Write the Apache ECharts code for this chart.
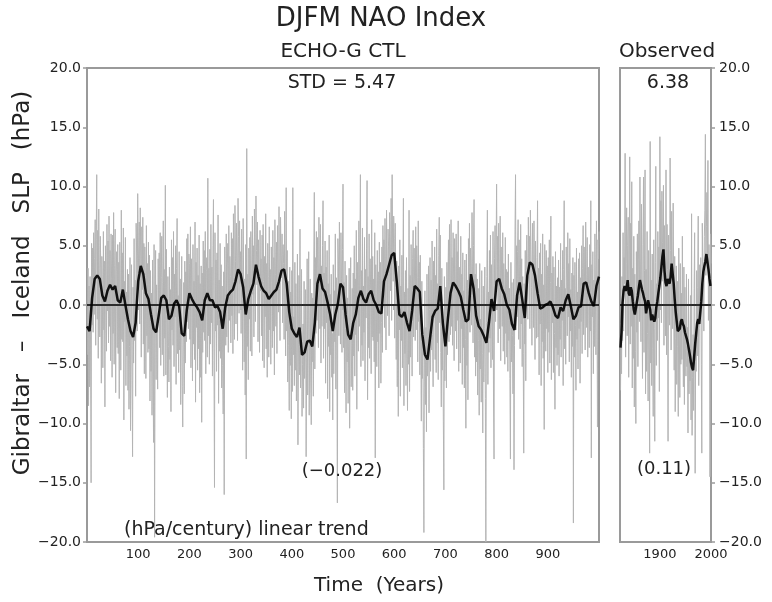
<!DOCTYPE html>
<html><head><meta charset="utf-8">
<script src="https://cdn.jsdelivr.net/npm/echarts@6/dist/echarts.min.js"></script>
<style>html,body{margin:0;padding:0;background:#fff}#c{width:772px;height:602px}</style>
</head><body><div id="c"></div>
<script>
// ECHO-G CTL annual DJFM NAO index, model years 1..1000 (hPa)
const ctlAnnual = [
-4.2,3.1,-8.5,1.6,-6.9,2.4,-3.8,-15.0,5.2,-1.7,4.8,-2.3,6.1,-0.8,3.9,7.2,-3.4,5.5,11.0,-1.2,
6.3,-4.5,8.1,1.9,-2.7,5.8,3.2,-6.6,4.1,0.9,-5.3,6.2,-2.1,3.7,-8.6,5.0,1.4,-3.9,6.8,-0.5,
5.4,-3.2,7.5,-1.8,4.6,-4.7,6.0,2.2,-6.1,5.9,-2.4,7.8,-5.0,3.3,6.4,-7.4,2.8,4.5,-3.6,5.1,
-4.1,3.6,-7.9,5.3,1.2,-5.5,8.0,-2.9,4.4,-3.1,6.5,-9.7,2.0,-1.4,5.7,-6.8,1.1,-4.3,3.0,-7.2,
2.6,-8.8,-3.5,4.0,-10.6,-1.9,3.4,-6.4,-12.8,1.5,-4.9,5.6,-3.0,2.1,-7.7,6.9,4.3,-2.2,9.4,5.0,
2.7,7.0,-1.6,8.2,3.8,-4.4,6.6,1.3,7.4,-3.3,5.2,-5.8,4.9,2.5,-6.2,6.7,-2.6,3.5,-4.0,5.3,
-3.7,4.2,-8.1,2.9,-5.6,1.0,-9.3,3.8,-4.8,-11.6,5.1,-19.6,-2.0,4.6,-6.3,1.7,-3.2,-7.1,3.9,-1.5,
4.4,-3.6,6.1,-5.1,2.3,5.8,-4.2,1.9,7.1,-6.0,3.0,-2.8,10.1,-5.9,4.7,-1.1,-7.8,2.4,-3.5,-6.5,
3.2,-4.6,1.3,-9.0,5.5,-2.1,4.0,-3.4,6.2,-5.2,2.6,-1.0,5.0,-6.7,3.1,7.3,-4.1,0.8,-5.7,4.5,
-3.8,2.2,-8.4,-1.6,4.1,-6.9,-10.3,-2.5,1.9,-7.5,3.7,-4.9,2.8,-3.1,5.6,-1.4,6.0,-2.0,4.3,3.5,
-2.9,6.6,-5.3,3.9,1.2,-6.4,5.1,-3.3,2.0,-4.6,7.0,-8.2,3.6,-1.9,4.8,-5.5,2.5,-3.7,5.9,-7.4,
1.8,-6.1,3.3,-9.9,2.7,-4.0,5.4,-2.3,4.6,-3.0,6.2,-5.8,2.9,4.0,-4.4,10.7,-2.6,3.1,-5.0,4.7,
-3.3,6.8,-1.5,3.2,-6.0,5.0,8.9,-4.7,-15.4,6.1,-2.2,3.8,-5.6,4.4,-1.7,7.6,-8.3,2.1,-3.9,5.2,
-4.5,3.4,-7.0,1.6,-5.1,-9.2,2.8,-16.0,4.9,1.0,-3.4,6.0,-2.7,3.3,5.2,-4.0,6.7,-1.3,4.1,2.4,
-3.2,6.1,-0.9,5.6,-4.1,7.7,2.3,-2.9,8.4,3.7,-1.6,6.9,4.4,-3.0,9.0,5.8,-0.7,7.1,1.8,4.5,
-2.4,6.4,3.0,-5.5,7.3,1.6,-4.8,2.2,-7.6,5.1,-13.0,13.2,-3.5,2.6,-6.3,4.8,-1.2,5.7,-3.9,6.2,
2.1,-4.3,7.5,0.9,5.0,-2.7,8.1,3.4,-1.4,9.2,4.6,1.7,7.0,-3.1,5.5,2.8,-4.0,6.3,1.2,3.9,
-2.6,5.9,-4.7,6.8,2.0,-5.3,4.1,-1.0,7.7,-3.7,3.5,-6.1,5.2,2.4,-4.4,6.6,-2.1,3.0,-5.0,4.9,
1.9,-3.6,6.3,-2.2,4.0,-5.9,7.2,2.6,-1.8,5.3,-4.1,6.7,3.1,-0.6,8.3,1.4,-3.0,7.4,4.2,2.3,
6.0,-1.5,5.1,3.5,-2.9,7.9,1.0,-4.3,9.9,-2.2,4.6,-6.5,2.0,-3.4,-8.9,3.2,-5.1,1.1,-9.6,2.9,
-7.3,9.9,-4.2,-1.0,-6.8,3.6,-5.5,1.8,-8.1,-2.6,4.3,-11.8,-3.3,2.5,-5.9,6.4,-7.0,-2.8,3.0,-9.4,
-5.0,-1.6,-8.7,2.0,-6.2,-3.6,1.3,-12.8,-4.4,3.9,-7.6,-2.1,4.5,-9.3,-3.0,2.2,-6.5,-10.1,1.0,-4.8,
0.6,-7.7,3.8,9.5,-5.4,4.0,-2.4,6.2,-1.3,5.7,2.9,-3.6,7.4,1.6,-2.0,6.8,-4.9,3.3,-1.8,5.0,
8.8,-4.5,2.7,-2.0,5.4,-6.6,3.2,-1.5,4.6,-7.9,1.8,-3.5,5.9,-9.0,0.9,-4.2,2.6,-6.1,-2.4,-9.7,
3.4,-5.8,1.2,-3.1,6.0,-7.1,2.3,-1.4,-16.7,5.6,3.8,-2.6,7.0,1.5,-3.3,6.1,2.2,-4.0,4.7,10.2,
-3.6,1.9,-7.4,3.7,-2.0,-9.1,2.5,-4.8,0.6,-8.3,-2.9,3.1,-10.4,-1.7,4.0,-6.9,-3.8,1.4,-7.2,2.7,
-4.3,5.0,-6.0,2.2,-2.5,6.3,-8.8,3.6,0.5,-3.9,7.1,-1.8,4.4,11.0,-5.2,2.9,-3.4,6.5,-4.7,1.6,
-2.3,5.7,-6.4,3.0,-1.1,4.8,10.5,-8.0,2.4,-3.6,6.0,-4.5,3.9,1.3,-5.8,7.2,-2.7,4.1,-3.0,2.2,
-4.8,6.1,-12.9,3.4,1.0,-5.2,4.6,-3.1,2.8,-7.0,5.3,-2.4,3.6,-6.6,-1.5,4.9,-4.0,6.7,1.8,5.5,
-1.9,7.3,2.4,-3.8,8.0,3.1,-0.9,6.4,4.9,-2.6,7.8,5.1,1.2,9.0,-1.3,11.0,4.3,2.0,7.5,5.6,
-2.8,6.9,1.5,-4.6,3.7,-6.9,2.0,-9.4,3.3,-2.1,5.5,-7.7,1.6,-3.0,4.2,-5.3,2.7,9.0,-8.5,1.1,
-4.1,2.9,-6.8,4.0,-3.5,-8.9,1.4,-5.0,8.0,-7.3,2.5,-4.4,5.1,-1.2,-6.0,3.9,6.3,-2.7,4.8,1.7,
-3.0,6.6,-2.1,5.0,2.3,-4.8,7.1,-1.4,3.6,-5.9,4.2,-3.3,-9.8,2.0,-6.2,-2.9,-12.1,-19.2,-3.6,1.2,
-8.4,-1.9,-10.7,2.6,-6.0,-4.1,3.3,-9.1,-0.4,4.0,-5.6,2.1,-3.8,5.4,-2.5,-6.9,3.7,-1.1,4.9,-4.6,
2.5,-5.7,6.4,-3.2,1.8,-6.3,4.2,7.4,-1.5,5.9,-4.0,-8.6,3.1,-5.5,-1.2,-9.8,-15.6,2.4,-6.4,-3.0,
1.5,-7.0,3.6,-4.2,2.0,5.5,-3.1,6.8,1.4,-2.5,7.2,-1.8,4.0,-3.4,6.1,2.7,-4.7,5.6,1.9,-2.2,
6.0,-3.7,4.5,-1.3,7.1,-5.6,3.2,1.0,-4.9,5.8,-2.0,2.6,-6.7,4.4,-3.6,1.2,-7.0,3.8,-2.9,-10.4,
4.3,-5.1,2.1,-8.0,5.6,1.0,6.9,-2.3,4.8,3.0,-1.7,7.8,1.9,-3.2,5.0,8.9,-4.4,2.6,-6.0,3.5,
-4.8,2.2,-7.6,1.4,-3.0,-9.3,3.5,-5.4,-1.2,-8.2,2.9,-4.1,-10.8,1.6,-6.5,-2.0,3.2,-7.9,-20.0,-1.5,
2.4,8.0,-6.7,1.1,-4.0,4.6,-2.8,5.9,-5.3,3.4,1.0,-4.6,6.2,-8.1,-13.0,3.9,6.7,-1.4,4.2,10.2,
1.6,5.8,-3.2,6.9,2.3,-2.0,7.5,-4.7,4.9,2.0,-1.8,6.1,-3.9,3.5,1.2,-5.0,5.7,-2.4,3.0,-4.4,
2.8,-5.6,4.3,-3.0,1.4,-6.2,-13.0,3.6,-4.8,1.9,-2.6,-7.5,2.2,-13.9,-3.4,6.4,11.0,-2.1,5.0,-1.0,
4.5,7.2,-2.9,5.5,0.8,-3.7,6.8,-1.6,3.9,-5.2,2.4,-4.1,-12.5,1.8,-3.3,4.6,-6.4,3.0,5.9,2.1,
-1.2,7.4,3.3,5.8,-2.0,8.0,4.7,1.5,-3.4,6.9,3.8,-1.9,7.1,2.2,-4.6,5.4,0.7,-2.8,4.0,8.8,
-2.7,3.1,-5.9,4.4,-1.6,5.2,-6.8,2.6,-3.1,6.0,-4.5,1.7,-10.5,5.1,2.2,-3.9,4.6,-2.0,3.3,-5.7,
4.0,-2.3,5.5,-4.9,1.9,7.5,-6.3,2.7,-1.5,4.1,-5.7,3.2,-2.4,-8.8,4.5,-3.6,1.6,-5.1,2.3,-4.2,
3.8,-6.0,1.5,-2.9,5.2,-4.4,2.1,-1.3,4.6,-6.8,3.0,8.8,-3.7,1.4,-5.0,4.9,2.2,-2.6,6.1,-1.0,
3.5,-4.8,5.6,-2.2,1.3,-6.1,2.7,-3.5,4.0,-18.4,2.5,-4.4,3.6,-1.7,-7.2,4.8,-2.9,1.1,-5.4,3.9,
-2.0,4.4,-6.6,2.3,-1.4,5.0,-4.1,3.1,6.7,-2.5,4.9,1.5,-3.8,7.0,2.6,-1.9,5.7,-4.4,3.2,1.0,
-3.6,5.1,-2.2,8.8,-12.9,3.4,-1.0,4.5,-5.8,2.1,-3.5,6.0,1.3,-4.2,7.1,2.8,-10.3,5.5,3.9,6.2
];
// ECHO-G CTL smoothed index, every 5 model years from year 0
const ctlSmoothStep = 5;
const ctlSmooth = [
-1.8,-2.2,0.6,2.2,2.5,2.2,0.8,0.3,1.2,1.7,1.3,1.6,0.4,0.2,1.3,0.0,-1.2,-2.2,-2.7,-1.5,
2.0,3.3,2.6,1.0,0.5,-0.8,-2.0,-2.3,-0.9,0.6,0.8,0.4,-1.2,-0.9,0.1,0.4,-0.1,-2.4,-2.6,-0.4,
1.0,0.5,0.1,-0.2,-0.6,-1.3,0.4,1.0,0.4,0.4,-0.2,-0.1,-0.6,-2.0,-0.2,0.8,1.1,1.3,2.0,3.0,
2.6,1.5,-0.8,0.5,1.2,1.8,3.4,2.4,1.6,1.2,1.0,0.5,0.8,1.1,1.3,2.0,2.9,3.0,1.8,-0.6,
-2.0,-2.4,-2.7,-1.9,-4.2,-4.0,-3.1,-3.0,-3.5,-1.5,1.8,2.6,1.4,1.1,0.2,-0.8,-2.2,-0.8,0.1,1.8,
1.5,-0.8,-2.5,-2.9,-1.5,-0.8,0.6,1.2,0.5,0.2,0.9,1.2,0.4,0.0,-0.6,-0.7,2.0,2.6,3.4,4.2,
4.4,2.0,-0.8,-1.0,-0.6,-1.5,-2.2,-0.5,1.6,1.4,1.1,-2.5,-4.2,-4.6,-2.8,-1.0,-0.5,-0.3,1.6,-1.5,
-3.5,-1.1,1.0,1.9,1.6,1.2,0.7,-0.4,-1.4,-1.2,2.6,1.4,-0.9,-1.8,-2.1,-2.6,-3.2,-1.5,0.5,-0.5,
2.0,2.2,1.4,0.9,0.0,-0.4,-1.6,-2.1,0.8,1.9,0.5,-1.1,2.5,3.6,3.4,2.5,1.0,-0.3,-0.2,0.0,
0.1,0.3,-0.2,-0.9,-1.1,-0.2,-0.5,0.4,0.9,-0.1,-1.2,-0.9,-0.2,-0.1,1.8,1.9,1.0,0.3,-0.1,1.6,
2.4
];
// Observed (Gibraltar - Iceland) annual DJFM index, 1823..2000 (hPa)
const obsStartYear = 1823;
const obsAnnual = [
-7.2,-1.5,-5.8,2.4,-3.0,6.1,-2.2,4.0,1.8,12.8,
-4.4,3.5,8.2,-2.6,5.0,7.4,-6.1,2.2,12.5,-3.3,
6.9,-1.8,10.4,-7.0,3.1,-4.5,5.8,-8.6,2.6,-3.9,
-10.0,4.5,-2.3,6.0,-5.2,3.8,7.1,-1.4,10.8,2.0,
-3.1,8.5,1.4,-6.2,5.1,10.8,-4.0,2.9,11.4,-7.5,
3.0,-5.6,6.2,-2.4,-8.1,4.6,-1.0,-12.5,13.8,-4.9,
2.1,-6.8,4.3,-3.7,-9.4,5.5,-2.0,-11.5,3.6,11.7,
-5.1,1.8,-3.0,6.2,-1.1,4.9,-7.3,14.2,2.4,8.8,
-1.5,9.6,5.3,2.0,10.1,-3.4,6.7,1.2,-2.6,11.4,
-4.2,6.8,3.0,-11.5,5.9,2.2,-1.7,12.4,4.6,-3.8,
7.9,2.7,-2.0,8.6,1.3,-5.5,4.1,-9.0,-2.8,3.3,
-6.7,2.0,-3.5,-9.4,4.8,-1.6,-7.8,3.5,-5.0,1.0,
-4.6,5.8,-2.1,-6.9,3.2,-8.4,1.5,-3.7,-6.0,2.6,
-5.2,-1.9,-10.8,2.2,-7.5,-3.8,-6.4,0.8,-9.7,7.7,
-11.0,-6.1,-2.5,-8.9,1.4,6.1,-14.2,-3.0,-5.6,2.9,
-4.3,1.5,7.5,-6.8,-2.0,3.4,-1.1,4.0,-5.0,-12.5,
6.9,3.0,1.6,-2.2,5.8,8.0,14.4,2.5,6.6,9.5,
4.0,12.2,-1.3,5.1,2.8,-14.5,6.0,3.5
];
// Observed smoothed index
const obsSmoothYears = [1823,1825,1827,1829,1831,1833,1835,1837,1839,1841,1843,1845,1847,1849,1851,1853,1855,1857,1859,1861,
1863,1865,1867,1869,1871,1873,1875,1877,1879,1881,1883,1885,1887,1889,1891,1893,1895,1897,1899,1901,
1903,1905,1907,1909,1911,1913,1915,1917,1919,1921,1923,1925,1927,1929,1931,1933,1935,1937,1939,1941,
1943,1945,1947,1949,1951,1953,1955,1957,1959,1961,1963,1965,1967,1969,1971,1973,1975,1977,1979,1981,
1983,1985,1987,1989,1991,1993,1995,1997,1999];
const obsSmooth = [-3.6,-2.3,0.2,1.2,1.6,1.2,1.4,2.1,1.0,0.8,1.5,1.2,0.3,-0.4,-0.8,-0.3,-0.2,0.8,1.5,2.1,
1.7,1.3,1.0,0.6,0.3,-0.7,-0.2,0.4,0.0,-0.4,-1.3,-0.8,-0.7,-1.4,-1.1,-0.2,0.3,1.0,1.6,2.3,
3.2,4.1,4.7,2.9,1.9,1.6,2.2,2.0,1.8,2.4,3.5,3.4,1.8,0.5,-0.6,-1.4,-2.2,-2.3,-2.0,-1.4,
-1.2,-1.6,-1.8,-2.3,-2.6,-2.9,-3.3,-3.8,-4.3,-4.9,-5.3,-5.5,-4.4,-3.3,-2.4,-1.5,-1.2,-1.6,-1.5,0.3,
1.8,2.8,3.3,3.7,4.3,4.2,3.0,2.2,1.6];
// Axis ticks and labels
const ctlXTicks = [100,200,300,400,500,600,700,800,900];
const obsXTicks = [1900,2000];
const yMin = -20, yMax = 20, yStep = 5;
const texts = {
  title: 'DJFM NAO Index',
  ctlTitle: 'ECHO-G CTL',
  obsTitle: 'Observed',
  ctlStd: 'STD = 5.47',
  obsStd: '6.38',
  ctlTrend: '(\u22120.022)',
  obsTrend: '(0.11)',
  trendNote: '(hPa/century) linear trend',
  xTitle: 'Time  (Years)',
  yTitle: 'Gibraltar   \u2013   Iceland   SLP   (hPa)'
};

const FONT = 'DejaVu Sans';
const TXT = '#222';
const AX = '#9a9a9a';

const ctlData = ctlAnnual.map((v, i) => [i + 1, v]);
const ctlSmoothData = ctlSmooth.map((v, i) => [i * ctlSmoothStep, v]);
const obsData = obsAnnual.map((v, i) => [obsStartYear + i, v]);
const obsSmoothData = obsSmooth.map((v, i) => [obsSmoothYears[i], v]);

const yFmt = v => (v < 0 ? '\u2212' : '') + Math.abs(v).toFixed(1);
const xFmt = v => String(v);

function yAxisCfg(grid, pos) {
  return {
    gridIndex: grid, type: 'value', min: yMin, max: yMax, interval: yStep, position: pos,
    axisLine: { show: true, lineStyle: { color: AX, width: 2 } },
    axisTick: { show: true, inside: false, length: 4, lineStyle: { color: AX, width: 1.5 } },
    axisLabel: { show: true, formatter: yFmt, color: TXT, fontFamily: FONT, fontSize: 14, margin: pos === 'left' ? 6 : 8 },
    splitLine: { show: false }
  };
}
function xAxisCfg(grid, min, max, ticks) {
  return {
    gridIndex: grid, type: 'value', min: min, max: max,
    axisLine: { show: true, lineStyle: { color: AX, width: 2 } },
    axisTick: { show: true, inside: false, length: 5, customValues: ticks, lineStyle: { color: AX, width: 1.5 } },
    axisLabel: { show: true, customValues: ticks, formatter: xFmt, color: TXT, fontFamily: FONT, fontSize: 13, margin: 6 },
    splitLine: { show: false }
  };
}
const zeroLine = {
  silent: true, symbol: ['none', 'none'], label: { show: false },
  lineStyle: { color: '#000', width: 1.5, type: 'solid' },
  data: [{ yAxis: 0 }]
};
function txt(text, x, y, size, align, rot) {
  return {
    type: 'text', x: x, y: y, rotation: rot || 0, silent: true, z: 100,
    style: { text: text, fill: TXT, font: size + 'px "' + FONT + '"',
      align: align || 'center', textAlign: align || 'center',
      verticalAlign: 'middle', textVerticalAlign: 'middle' }
  };
}

const chart = echarts.init(document.getElementById('c'), null, { renderer: 'canvas' });
chart.setOption({
  animation: false,
  backgroundColor: '#fff',
  grid: [
    { left: 87, top: 68, width: 512, height: 474, show: true, borderColor: AX, borderWidth: 2 },
    { left: 620, top: 68, width: 91, height: 474, show: true, borderColor: AX, borderWidth: 2 }
  ],
  xAxis: [xAxisCfg(0, 0, 1000, ctlXTicks), xAxisCfg(1, 1822, 2000, obsXTicks)],
  yAxis: [yAxisCfg(0, 'left'), yAxisCfg(1, 'right')],
  series: [
    { type: 'line', xAxisIndex: 0, yAxisIndex: 0, data: ctlData, showSymbol: false, z: 2,
      lineStyle: { color: '#b4b4b4', width: 1 }, markLine: zeroLine },
    { type: 'line', xAxisIndex: 0, yAxisIndex: 0, data: ctlSmoothData, showSymbol: false, z: 4,
      lineStyle: { color: '#111', width: 2.5 } },
    { type: 'line', xAxisIndex: 1, yAxisIndex: 1, data: obsData, showSymbol: false, z: 2,
      lineStyle: { color: '#b4b4b4', width: 1 }, markLine: zeroLine },
    { type: 'line', xAxisIndex: 1, yAxisIndex: 1, data: obsSmoothData, showSymbol: false, z: 4,
      lineStyle: { color: '#111', width: 2.5 } }
  ],
  graphic: [
    txt(texts.title, 381, 19, 26),
    txt(texts.ctlTitle, 343, 52, 20),
    txt(texts.obsTitle, 667, 52, 20),
    txt(texts.ctlStd, 342, 83, 19),
    txt(texts.obsStd, 668, 83, 19),
    txt(texts.ctlTrend, 342, 471, 18),
    txt(texts.obsTrend, 664, 469, 18),
    txt(texts.trendNote, 124, 530, 19, 'left'),
    txt(texts.xTitle, 379, 586, 20),
    txt(texts.yTitle, 23, 283, 23, 'center', Math.PI / 2)
  ]
});
</script>
</body></html>
